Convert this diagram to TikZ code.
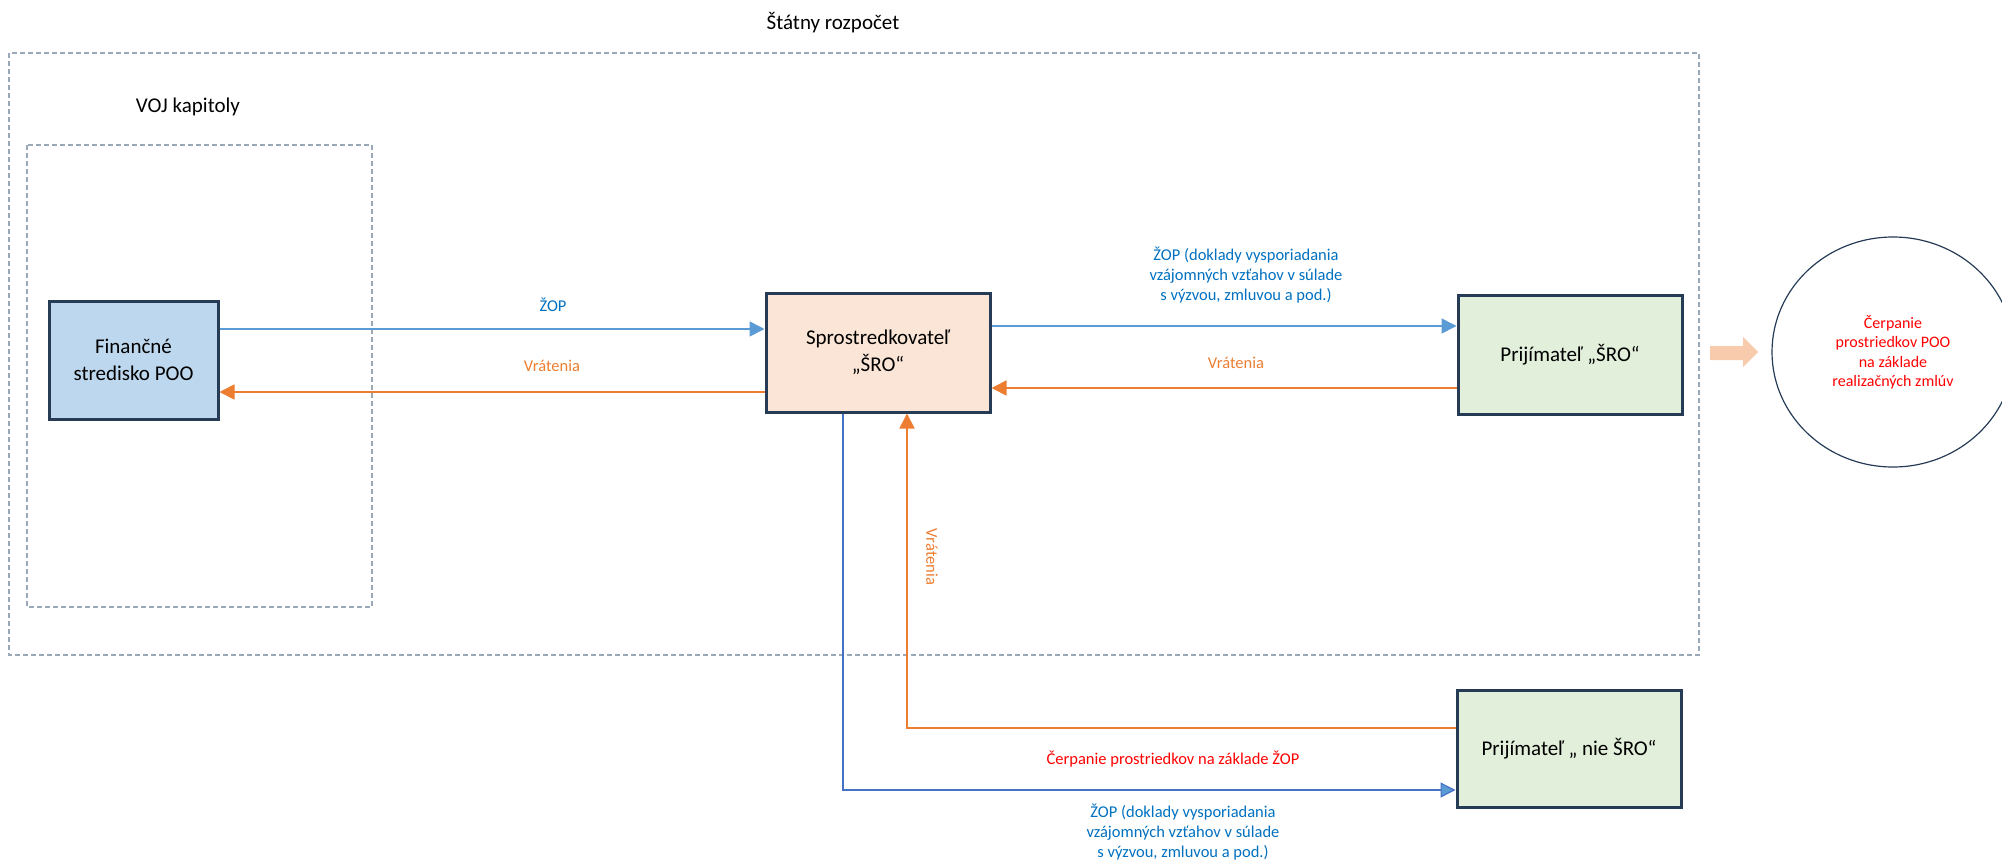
\documentclass[tikz,border=0pt]{standalone}
\usepackage{fontspec}
\setmainfont{Carlito}
\usetikzlibrary{arrows.meta,shapes.geometric}
\definecolor{navy}{HTML}{253B56}
\definecolor{finblue}{HTML}{BDD7EE}
\definecolor{peach}{HTML}{FBE5D6}
\definecolor{lgreen}{HTML}{E2EFDA}
\definecolor{arrblue}{HTML}{5B9BD5}
\definecolor{darkblue}{HTML}{4472C4}
\definecolor{arrorange}{HTML}{ED7D31}
\definecolor{txtblue}{HTML}{0070C0}
\definecolor{txtred}{HTML}{FF0000}
\definecolor{dashgray}{HTML}{9AA8B8}
\definecolor{blockarr}{HTML}{F8CBAD}
\tikzset{
  box/.style={draw=navy, line width=3pt, inner sep=0pt, align=center,
    font=\fontsize{21}{27}\selectfont},
  frame/.style={draw=dashgray, line width=1.1pt, dash pattern=on 5pt off 3pt},
  bluearr/.style={draw=arrblue, line width=1.6pt, -{Triangle[length=15pt,width=15pt]}},
  vbluearr/.style={draw=darkblue, line width=1.2pt, -{Triangle[length=15pt,width=15pt,fill=arrblue]}},
  orangearr/.style={draw=arrorange, line width=1.8pt, -{Triangle[length=15pt,width=15pt]}},
  lbl/.style={inner sep=0pt, align=center, font=\fontsize{16.5}{20}\selectfont},
  heading/.style={inner sep=0pt, font=\fontsize{21}{25}\selectfont}
}
\begin{document}
\begin{tikzpicture}[x=1pt,y=-1pt]
\useasboundingbox (0,0) rectangle (2002,860);
% frames
\draw[frame] (9,53) rectangle (1699,655);
\draw[frame] (27,145) rectangle (372,607);
\node[heading] (title) at (833,23) {Štátny rozpočet};
\node[heading] (voj) at (188,107) {VOJ kapitoly};
% boxes
\node[box, fill=finblue, minimum width=169pt, minimum height=118pt] (fin) at (133.5,360) {Finančné\\stredisko POO};
\node[box, fill=peach, minimum width=224pt, minimum height=119pt] (spr) at (878,352.5) {Sprostredkovateľ\\„ŠRO“};
\node[box, fill=lgreen, minimum width=224pt, minimum height=119pt] (prs) at (1570,354.5) {Prijímateľ „ŠRO“};
\node[box, fill=lgreen, minimum width=224pt, minimum height=117pt] (prn) at (1569,748.5) {Prijímateľ „ nie ŠRO“};
\node[ellipse, draw=navy, line width=1.2pt, minimum width=242pt, minimum height=230pt, inner sep=0pt, align=center,
  text=txtred, font=\fontsize{16}{19.5}\selectfont] (goal) at (1893,352)
  {Čerpanie\\prostriedkov POO\\na základe\\realizačných zmlúv};
% block arrow
\fill[blockarr] (1710,346) -- (1743,346) -- (1743,337) -- (1758,352) -- (1743,367) -- (1743,360) -- (1710,360) -- cycle;
% connectors
\draw[bluearr] ([yshift=31pt]fin.east) -- ([yshift=31pt]fin.east -| spr.west);
\draw[orangearr] ([yshift=-39.5pt]spr.west) -- ([yshift=-39.5pt]spr.west -| fin.east);
\draw[bluearr] ([yshift=26.5pt]spr.east) -- ([yshift=26.5pt]spr.east -| prs.west);
\draw[orangearr] ([yshift=-33.5pt]prs.west) -- ([yshift=-33.5pt]prs.west -| spr.east);
\draw[vbluearr] ([xshift=-35pt]spr.south) |- ([yshift=-41.5pt]prn.west);
\draw[orangearr] ([yshift=20.5pt]prn.west) -| ([xshift=29pt]spr.south);
% labels
\node[lbl, text=txtblue] (l1) at (553,305) {ŽOP};
\node[lbl, text=arrorange] (l2) at (552,366) {Vrátenia};
\node[lbl, text=txtblue] (l3) at (1246,275) {ŽOP (doklady vysporiadania\\vzájomných vzťahov v súlade\\s výzvou, zmluvou a pod.)};
\node[lbl, text=arrorange] (l4) at (1236,363) {Vrátenia};
\node[lbl, text=arrorange, rotate=-90] (l5) at (932,557) {Vrátenia};
\node[lbl, text=txtred] (l6) at (1173,759) {Čerpanie prostriedkov na základe ŽOP};
\node[lbl, text=txtblue] (l7) at (1183,832) {ŽOP (doklady vysporiadania\\vzájomných vzťahov v súlade\\s výzvou, zmluvou a pod.)};
\end{tikzpicture}
\end{document}
